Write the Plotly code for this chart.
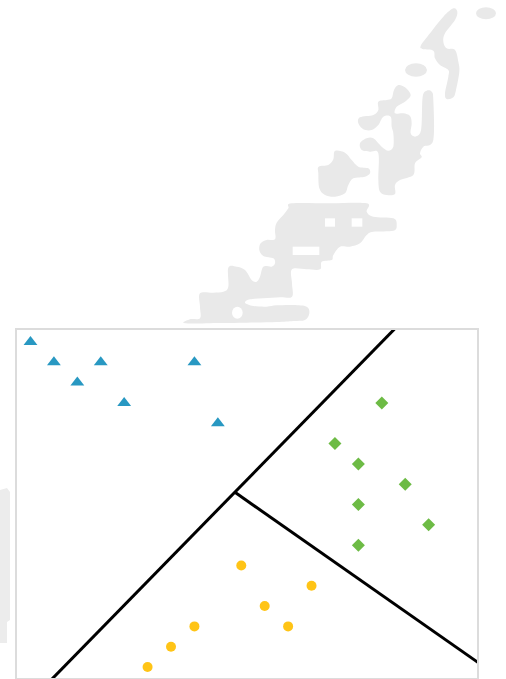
import plotly.graph_objects as go

# ---- data -------------------------------------------------------------
# class A (triangles)
a_x = [0, 1, 3, 2, 4, 7, 8]
a_y = [16, 15, 15, 14, 13, 15, 12]
# class B (diamonds)
b_x = [15, 13, 14, 16, 14, 17, 14]
b_y = [13, 11, 10, 9, 8, 7, 6]
# class C (circles)
c_x = [9, 12, 10, 7, 11, 6, 5]
c_y = [5, 4, 3, 2, 2, 1, 0]

# decision boundaries
bound1_x = [0.57, 15.85]
bound1_y = [-1.0, 17.0]
bound2_x = [8.73, 19.6]
bound2_y = [8.6, -0.17]

X_RANGE = [-0.576, 19.065]
Y_RANGE = [-0.54, 16.59]

# ---- page geometry ----------------------------------------------------
W, H = 506, 679
ML, MR, MT, MB = 17, 29, 330, 1
PW, PH = W - ML - MR, H - MT - MB

BLUE = "#2898c2"
GREEN = "#6dbb45"
YELLOW = "#ffc416"
WM_GRAY = "#e9e9e9"

# Watermark outlines, sketched on a 3x grid (page pixels * 3)
WM_SCALE = 1 / 3
wm_pieces = [
    # long hook strand at the top
    [(1360, 25), (1372, 35), (1365, 60), (1335, 100), (1330, 125), (1340, 145),
     (1365, 150), (1375, 185), (1378, 215), (1368, 270), (1360, 292), (1340, 297),
     (1335, 280), (1345, 230), (1345, 210), (1320, 195), (1305, 175), (1300, 152),
     (1270, 148), (1262, 138), (1290, 100), (1330, 50)],
    # branching middle section
    [(1195, 255), (1215, 262), (1232, 285), (1215, 305), (1190, 320), (1185, 340),
     (1210, 340), (1230, 348), (1235, 370), (1232, 400), (1245, 410), (1260, 400),
     (1265, 370), (1268, 290), (1280, 272), (1295, 275), (1300, 300), (1300, 420),
     (1270, 440), (1260, 460), (1265, 472), (1245, 490), (1240, 525), (1200, 540),
     (1185, 555), (1185, 582), (1160, 585), (1140, 575), (1135, 540), (1135, 460),
     (1110, 455), (1085, 450), (1080, 430), (1100, 415), (1120, 415), (1145, 440),
     (1165, 452), (1180, 440), (1180, 400), (1175, 380), (1172, 350), (1150, 350),
     (1135, 375), (1115, 390), (1090, 388), (1075, 370), (1080, 352), (1120, 345),
     (1135, 330), (1135, 305), (1160, 300), (1175, 295), (1182, 270)],
    # rounded block
    [(1005, 453), (1035, 458), (1055, 480), (1075, 500), (1105, 505), (1110, 520),
     (1095, 530), (1060, 535), (1045, 555), (1035, 580), (1005, 590), (975, 585),
     (958, 565), (955, 520), (956, 500), (985, 495), (1000, 478)],
    # large lower body
    [(875, 610), (990, 610), (1100, 610), (1100, 635), (1120, 650), (1180, 655),
     (1190, 675), (1180, 692), (1120, 695), (1100, 705), (1080, 730), (1050, 740),
     (1020, 740), (1000, 765), (995, 780), (965, 785), (960, 808), (920, 808),
     (876, 808), (876, 850), (876, 890), (840, 892), (790, 895), (750, 898),
     (735, 908), (760, 918), (800, 920), (830, 916), (880, 915), (920, 920),
     (928, 940), (915, 960), (880, 963), (830, 966), (740, 968), (660, 969),
     (555, 970), (570, 958), (600, 955), (600, 920), (600, 880), (640, 878),
     (670, 875), (685, 860), (685, 803), (710, 800), (735, 810), (755, 840),
     (770, 845), (780, 830), (790, 800), (815, 800), (825, 790), (820, 775),
     (790, 768), (778, 750), (782, 730), (800, 720), (825, 718), (825, 690),
     (830, 668), (850, 645), (865, 625)],
]
wm_ellipses = [  # (cx, cy, rx, ry) on the same 3x grid
    (1458, 40, 30, 18),
    (1248, 210, 33, 20),
]
wm_holes = [  # white gaps inside the lower body (x0, y0, x1, y1)
    (975, 655, 1005, 680),
    (1055, 655, 1087, 680),
    (878, 740, 958, 765),
]
wm_hole_dots = [(712, 938, 16, 18)]
wm_strip = [(0, 1470), (21, 1464), (30, 1476), (30, 1860), (21, 1866),
            (21, 1929), (0, 1929)]


def to_paper(px, py):
    return (px - ML) / PW, (H - MB - py) / PH


def grid_pt(p):
    return to_paper(p[0] * WM_SCALE, p[1] * WM_SCALE)


def smooth_closed(pts):
    """Closed Catmull-Rom outline converted to cubic Bezier path."""
    P = [grid_pt(p) for p in pts]
    n = len(P)
    d = f"M{P[0][0]:.5f},{P[0][1]:.5f}"
    for i in range(n):
        p0, p1, p2, p3 = P[i - 1], P[i], P[(i + 1) % n], P[(i + 2) % n]
        c1 = (p1[0] + (p2[0] - p0[0]) / 6, p1[1] + (p2[1] - p0[1]) / 6)
        c2 = (p2[0] - (p3[0] - p1[0]) / 6, p2[1] - (p3[1] - p1[1]) / 6)
        d += (f" C{c1[0]:.5f},{c1[1]:.5f} {c2[0]:.5f},{c2[1]:.5f}"
              f" {p2[0]:.5f},{p2[1]:.5f}")
    return d + " Z"


def straight_closed(pts):
    P = [grid_pt(p) for p in pts]
    return "M" + " L".join(f"{x:.5f},{y:.5f}" for x, y in P) + " Z"


shapes = []
for piece in wm_pieces:
    shapes.append(dict(type="path", xref="paper", yref="paper", layer="below",
                       path=smooth_closed(piece), fillcolor=WM_GRAY,
                       line=dict(width=0)))
for cx, cy, rx, ry in wm_ellipses:
    x0, y0 = grid_pt((cx - rx, cy + ry))
    x1, y1 = grid_pt((cx + rx, cy - ry))
    shapes.append(dict(type="circle", xref="paper", yref="paper", layer="below",
                       x0=x0, y0=y0, x1=x1, y1=y1, fillcolor=WM_GRAY,
                       line=dict(width=0)))
for x0g, y0g, x1g, y1g in wm_holes:
    x0, y0 = grid_pt((x0g, y1g))
    x1, y1 = grid_pt((x1g, y0g))
    shapes.append(dict(type="rect", xref="paper", yref="paper", layer="below",
                       x0=x0, y0=y0, x1=x1, y1=y1, fillcolor="white",
                       line=dict(width=0)))
for cx, cy, rx, ry in wm_hole_dots:
    x0, y0 = grid_pt((cx - rx, cy + ry))
    x1, y1 = grid_pt((cx + rx, cy - ry))
    shapes.append(dict(type="circle", xref="paper", yref="paper", layer="below",
                       x0=x0, y0=y0, x1=x1, y1=y1, fillcolor="white",
                       line=dict(width=0)))
shapes.append(dict(type="path", xref="paper", yref="paper", layer="below",
                   path=straight_closed(wm_strip), fillcolor="#ececec",
                   line=dict(width=0)))

fig = go.Figure()
for bx, by in [(bound1_x, bound1_y), (bound2_x, bound2_y)]:
    fig.add_trace(go.Scatter(x=bx, y=by, mode="lines",
                             line=dict(color="black", width=3),
                             hoverinfo="skip", showlegend=False))
fig.add_trace(go.Scatter(x=a_x, y=a_y, mode="markers", showlegend=False,
                         marker=dict(symbol="triangle-up", size=12, color=BLUE)))
fig.add_trace(go.Scatter(x=b_x, y=b_y, mode="markers", showlegend=False,
                         marker=dict(symbol="diamond", size=10, color=GREEN)))
fig.add_trace(go.Scatter(x=c_x, y=c_y, mode="markers", showlegend=False,
                         marker=dict(symbol="circle", size=10, color=YELLOW)))

axis_style = dict(showgrid=False, zeroline=False, showticklabels=False,
                  ticks="", showline=True, mirror=True, linecolor="#dcdcdc",
                  linewidth=2, fixedrange=True)
fig.update_layout(
    width=W, height=H, autosize=False,
    margin=dict(l=ML, r=MR, t=MT, b=MB, pad=0),
    paper_bgcolor="white", plot_bgcolor="white",
    xaxis=dict(range=X_RANGE, **axis_style),
    yaxis=dict(range=Y_RANGE, **axis_style),
    shapes=shapes,
)

fig.write_html("out.html")
